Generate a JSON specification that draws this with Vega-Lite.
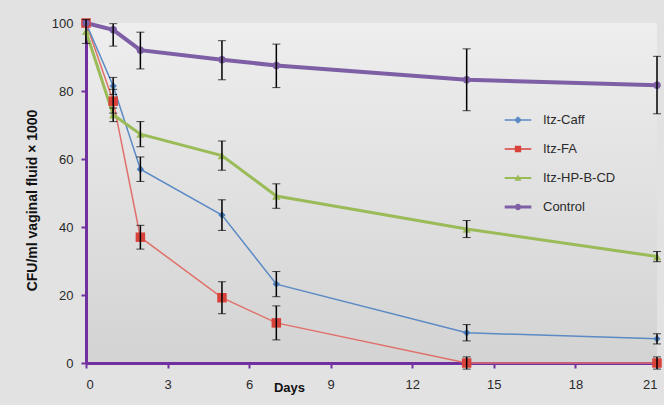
{
  "$schema": "https://vega.github.io/schema/vega-lite/v6.json",
  "width": 571,
  "height": 340,
  "autosize": {"type": "none"},
  "padding": {"left": 86, "top": 23, "right": 7, "bottom": 42},
  "background": "#e2e2e2",
  "config": {
    "view": {"stroke": null, "fill": {"gradient": "linear", "x1": 0, "y1": 0, "x2": 0, "y2": 1, "stops": [{"offset": 0, "color": "#eeeeee"}, {"offset": 1, "color": "#d3d3d3"}]}},
    "font": "Liberation Sans",
    "axis": {
      "grid": false,
      "domainColor": "#7030a0",
      "domainWidth": 3,
      "tickColor": "#7030a0",
      "tickWidth": 2,
      "tickSize": 5,
      "labelFont": "Liberation Sans",
      "labelFontSize": 13,
      "labelColor": "#2a2a2a",
      "labelPadding": 8,
      "titleFont": "Liberation Sans",
      "titleFontSize": 13,
      "titleFontWeight": "bold",
      "titleColor": "#111111"
    },
    "legend": {"padding": 0}
  },
  "data": {
    "values": [
      {"series": "Itz-Caff", "day": 0, "value": 100, "lo": null, "hi": null},
      {"series": "Itz-Caff", "day": 1, "value": 81.5, "lo": 79, "hi": 84},
      {"series": "Itz-Caff", "day": 2, "value": 57, "lo": 53.4, "hi": 60.6},
      {"series": "Itz-Caff", "day": 5, "value": 43.5, "lo": 39, "hi": 48},
      {"series": "Itz-Caff", "day": 7, "value": 23.2, "lo": 19.5, "hi": 26.9},
      {"series": "Itz-Caff", "day": 14, "value": 8.9, "lo": 6.5, "hi": 11.3},
      {"series": "Itz-Caff", "day": 21, "value": 7.1, "lo": 5.6, "hi": 8.6},
      {"series": "Itz-FA", "day": 0, "value": 100, "lo": null, "hi": null},
      {"series": "Itz-FA", "day": 1, "value": 77, "lo": 73.5, "hi": 80.5},
      {"series": "Itz-FA", "day": 2, "value": 37, "lo": 33.5, "hi": 40.5},
      {"series": "Itz-FA", "day": 5, "value": 19.2, "lo": 14.5, "hi": 23.9},
      {"series": "Itz-FA", "day": 7, "value": 11.8, "lo": 6.8, "hi": 16.8},
      {"series": "Itz-FA", "day": 14, "value": 0, "lo": -1.8, "hi": 1.8},
      {"series": "Itz-FA", "day": 21, "value": 0, "lo": -1.8, "hi": 1.8},
      {"series": "Itz-HP-B-CD", "day": 0, "value": 97.5, "lo": 94, "hi": 101},
      {"series": "Itz-HP-B-CD", "day": 1, "value": 73, "lo": 71, "hi": 75},
      {"series": "Itz-HP-B-CD", "day": 2, "value": 67.3, "lo": 63.6, "hi": 71},
      {"series": "Itz-HP-B-CD", "day": 5, "value": 61, "lo": 56.7, "hi": 65.3},
      {"series": "Itz-HP-B-CD", "day": 7, "value": 49.1, "lo": 45.5, "hi": 52.7},
      {"series": "Itz-HP-B-CD", "day": 14, "value": 39.4, "lo": 36.9, "hi": 41.9},
      {"series": "Itz-HP-B-CD", "day": 21, "value": 31.3, "lo": 29.8, "hi": 32.8},
      {"series": "Control", "day": 0, "value": 100, "lo": null, "hi": null},
      {"series": "Control", "day": 1, "value": 98, "lo": 93.2, "hi": 99.8},
      {"series": "Control", "day": 2, "value": 92, "lo": 86.5, "hi": 97.3},
      {"series": "Control", "day": 5, "value": 89.2, "lo": 83.3, "hi": 94.8},
      {"series": "Control", "day": 7, "value": 87.5, "lo": 81, "hi": 93.8},
      {"series": "Control", "day": 14, "value": 83.3, "lo": 74.2, "hi": 92.4},
      {"series": "Control", "day": 21, "value": 81.7, "lo": 73.3, "hi": 90.2}
    ]
  },
  "encoding": {
    "x": {
      "field": "day", "type": "quantitative",
      "scale": {"domain": [0, 21], "nice": false, "zero": false},
      "axis": {"values": [0, 3, 6, 9, 12, 15, 18, 21], "labelPadding": 10, "title": "Days", "titleX": 203, "titleY": 24, "titleBaseline": "middle", "titleAlign": "center"}
    },
    "y": {
      "field": "value", "type": "quantitative",
      "scale": {"domain": [0, 100], "nice": false},
      "axis": {"values": [0, 20, 40, 60, 80, 100], "title": "CFU/ml vaginal fluid × 1000", "titleFontSize": 14, "titleX": -54, "titleY": 177, "titleBaseline": "middle", "titleAlign": "center", "titleAngle": -90}
    }
  },
  "layer": [
    {
      "transform": [{"filter": "datum.series == 'Itz-FA'"}],
      "mark": {"type": "line", "clip": false, "color": "#e0706a", "strokeWidth": 1.5},
      "encoding": {}
    },
    {
      "transform": [{"filter": "datum.series == 'Itz-Caff'"}],
      "mark": {"type": "line", "clip": false, "color": "#5b8ac4", "strokeWidth": 1.5},
      "encoding": {}
    },
    {
      "transform": [{"filter": "datum.series == 'Itz-HP-B-CD'"}],
      "mark": {"type": "line", "clip": false, "color": "#9bbb59", "strokeWidth": 3},
      "encoding": {}
    },
    {
      "transform": [{"filter": "datum.series == 'Control'"}],
      "mark": {"type": "line", "clip": false, "color": "#7e5fa6", "strokeWidth": 4},
      "encoding": {}
    },
    {
      "transform": [{"filter": "datum.series == 'Itz-Caff'"}],
      "mark": {"type": "point", "shape": "diamond", "filled": true, "opacity": 1, "size": 55, "color": "#4a7ebb", "clip": false}
    },
    {
      "transform": [{"filter": "datum.series == 'Itz-FA'"}],
      "mark": {"type": "point", "shape": "square", "filled": true, "opacity": 1, "size": 90, "color": "#d9413b", "clip": false}
    },
    {
      "transform": [{"filter": "datum.series == 'Itz-HP-B-CD'"}],
      "mark": {"type": "point", "shape": "triangle-up", "filled": true, "opacity": 1, "size": 70, "color": "#9bbb59", "clip": false}
    },
    {
      "transform": [{"filter": "datum.series == 'Control'"}],
      "mark": {"type": "point", "shape": "circle", "filled": true, "opacity": 1, "size": 55, "color": "#7e5fa6", "clip": false}
    },
    {
      "transform": [{"filter": "isValid(datum.lo)"}],
      "mark": {"type": "errorbar", "clip": false, "ticks": {"size": 8, "color": "black", "strokeWidth": 1.5}, "rule": {"color": "black", "strokeWidth": 1.5}},
      "encoding": {
        "y": {"field": "lo", "type": "quantitative"},
        "y2": {"field": "hi"},
        "detail": {"field": "series", "type": "nominal"}
      }
    },
    {
      "transform": [{"filter": "false"}],
      "mark": {"type": "point", "filled": true, "opacity": 1},
      "encoding": {
        "color": {"field": "series", "type": "nominal",
          "scale": {"domain": ["Itz-Caff", "Itz-FA", "Itz-HP-B-CD", "Control"], "range": ["#5b8ac4", "#d9413b", "#9bbb59", "#7e5fa6"]},
          "legend": {"orient": "none", "legendX": 425, "legendY": 90, "title": null, "symbolSize": 196, "symbolStrokeWidth": 0, "labelOffset": 18, "rowPadding": 15, "labelFontSize": 13, "labelColor": "#2a2a2a", "labelFont": "Liberation Sans", "padding": 0}},
        "shape": {"field": "series", "type": "nominal",
          "scale": {"domain": ["Itz-Caff", "Itz-FA", "Itz-HP-B-CD", "Control"], "range": [
            "M-1.9,-0.1H1.9V0.1H-1.9Z M0,-0.55L0.55,0L0,0.55L-0.55,0Z",
            "M-1.9,-0.1H1.9V0.1H-1.9Z M-0.45,-0.45H0.45V0.45H-0.45Z",
            "M-1.9,-0.15H1.9V0.15H-1.9Z M0,-0.5L0.5,0.4L-0.5,0.4Z",
            "M-1.9,-0.2H1.9V0.2H-1.9Z M0.45,0A0.45,0.45,0,1,1,-0.45,0A0.45,0.45,0,1,1,0.45,0Z"
          ]},
          "legend": {"orient": "none", "legendX": 425, "legendY": 90, "title": null, "symbolSize": 196, "symbolStrokeWidth": 0, "labelOffset": 18, "rowPadding": 15, "labelFontSize": 13, "labelColor": "#2a2a2a", "labelFont": "Liberation Sans", "padding": 0}}
      }
    }
  ]
}
